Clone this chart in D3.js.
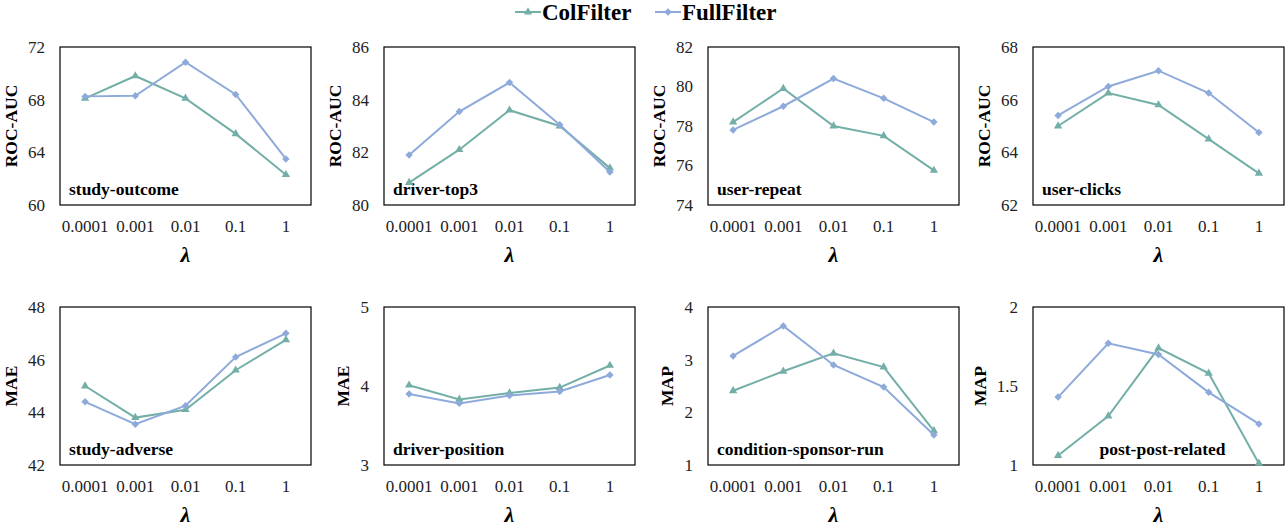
<!DOCTYPE html>
<html>
<head>
<meta charset="utf-8">
<script src="https://cdn.jsdelivr.net/npm/d3@7"></script>
<style>
  body { margin: 0; background: #fff; }
  svg text { font-family: "Liberation Serif", "Times New Roman", serif; }
</style>
</head>
<body>
<div id="container"></div>
<script>
var width = 1288;
var height = 529;

var lambdas = ["0.0001", "0.001", "0.01", "0.1", "1"];
var seriesNames = ["ColFilter", "FullFilter"];

var panelNames = ["study-outcome", "driver-top3", "user-repeat", "user-clicks",
                  "study-adverse", "driver-position", "condition-sponsor-run", "post-post-related"];
var metrics = ["ROC-AUC", "ROC-AUC", "ROC-AUC", "ROC-AUC", "MAE", "MAE", "MAP", "MAP"];
var yDomains = [[60, 72], [80, 86], [74, 82], [62, 68], [42, 48], [3, 5], [1, 4], [1, 2]];
var yTicks = [[60, 64, 68, 72], [80, 82, 84, 86], [74, 76, 78, 80, 82], [62, 64, 66, 68],
              [42, 44, 46, 48], [3, 4, 5], [1, 2, 3, 4], [1, 1.5, 2]];

var colFilter = [
  [68.1, 69.8, 68.1, 65.4, 62.3],
  [80.85, 82.1, 83.6, 83.0, 81.4],
  [78.2, 79.9, 78.0, 77.5, 75.75],
  [65.0, 66.25, 65.8, 64.5, 63.2],
  [45.0, 43.8, 44.1, 45.6, 46.75],
  [4.01, 3.83, 3.91, 3.98, 4.26],
  [2.41, 2.78, 3.12, 2.86, 1.65],
  [1.06, 1.31, 1.74, 1.58, 1.01]
];
var fullFilter = [
  [68.25, 68.3, 70.85, 68.4, 63.5],
  [81.9, 83.55, 84.65, 83.05, 81.25],
  [77.8, 79.0, 80.4, 79.4, 78.2],
  [65.4, 66.5, 67.1, 66.25, 64.75],
  [44.4, 43.55, 44.25, 46.1, 47.0],
  [3.90, 3.78, 3.88, 3.93, 4.14],
  [3.07, 3.64, 2.90, 2.48, 1.57],
  [1.43, 1.77, 1.70, 1.46, 1.26]
];

var colors = {"ColFilter": "#74afa7", "FullFilter": "#8eaadb"};
var boxW = 251, boxH = 158;
var boxLeft = [60, 384, 708, 1033];
var boxTop = [47, 307];

const SVG = d3.select("#container")
              .append("svg")
              .attr("width", width)
              .attr("height", height);

// triangle for ColFilter, square turned 45deg for FullFilter
function marker(sel, name) {
  if (name == "ColFilter") {
    sel.attr("d", d3.symbol().type(d3.symbolTriangle).size(30)());
  } else {
    sel.attr("d", d3.symbol().type(d3.symbolSquare).size(28)())
       .attr("transform", function() { return d3.select(this).attr("transform") + " rotate(45)"; });
  }
}

panelNames.forEach(function(name, i) {
  var col = i % 4, row = Math.floor(i / 4);
  var g = SVG.append("g")
             .attr("transform", `translate(${boxLeft[col]},${boxTop[row]})`);

  var x = d3.scaleBand().domain(lambdas).range([0, boxW]);
  var y = d3.scaleLinear().domain(yDomains[i]).range([boxH, 0]);

  // y tick labels
  var yAxis = g.append("g")
               .attr("transform", "translate(-15,0)")
               .call(d3.axisLeft(y).tickValues(yTicks[i]).tickSize(0).tickPadding(0).tickFormat(d3.format("")));
  yAxis.select(".domain").remove();
  yAxis.selectAll("text")
       .style("font-family", "Liberation Serif")
       .attr("font-size", "17px")
       .attr("fill", "#222");

  var maxW = 0;
  yAxis.selectAll("text").each(function() { maxW = Math.max(maxW, this.getBBox().width); });

  // x tick labels
  var xAxis = g.append("g")
               .attr("transform", `translate(0,${boxH})`)
               .call(d3.axisBottom(x).tickSize(0).tickPadding(15));
  xAxis.select(".domain").remove();
  xAxis.selectAll("text")
       .style("font-family", "Liberation Serif")
       .attr("font-size", "17px")
       .attr("fill", "#222");

  g.append("rect")
   .attr("width", boxW)
   .attr("height", boxH)
   .attr("fill", "none")
   .attr("stroke", "#000")
   .attr("stroke-width", 1.2);

  // y title
  g.append("text")
   .attr("transform", `translate(${-15 - maxW - 11},${boxH / 2}) rotate(-90)`)
   .attr("text-anchor", "middle")
   .attr("font-weight", "bold")
   .attr("font-size", "17.5px")
   .text(metrics[i]);

  // x title
  g.append("text")
   .attr("x", boxW / 2)
   .attr("y", boxH + 57)
   .attr("text-anchor", "middle")
   .attr("font-weight", "bold")
   .attr("font-style", "italic")
   .attr("font-size", "22px")
   .text("λ");

  // panel name
  var centered = name == "post-post-related";
  g.append("text")
   .attr("x", centered ? boxW / 2 + 4 : 9)
   .attr("y", boxH - 10)
   .attr("text-anchor", centered ? "middle" : "start")
   .attr("font-weight", "bold")
   .attr("font-size", "17.5px")
   .text(name);

  var line = d3.line()
               .x((d, j) => x(lambdas[j]) + x.bandwidth() / 2)
               .y(d => y(d));

  [["ColFilter", colFilter[i]], ["FullFilter", fullFilter[i]]].forEach(function(s) {
    g.append("path")
     .datum(s[1])
     .attr("d", line)
     .attr("fill", "none")
     .attr("stroke", colors[s[0]])
     .attr("stroke-width", 2);
    g.selectAll(null)
     .data(s[1])
     .enter()
     .append("path")
     .attr("transform", (d, j) => `translate(${x(lambdas[j]) + x.bandwidth() / 2},${y(d)})`)
     .call(marker, s[0])
     .attr("fill", colors[s[0]]);
  });
});

// legend
var legendX = [515, 655];
var LEGEND = SVG.append("g").attr("transform", "translate(0,12)");
seriesNames.forEach(function(n, i) {
  LEGEND.append("line")
        .attr("x1", legendX[i]).attr("x2", legendX[i] + 26)
        .attr("y1", 0).attr("y2", 0)
        .attr("stroke", colors[n])
        .attr("stroke-width", 2);
  LEGEND.append("path")
        .attr("transform", `translate(${legendX[i] + 13},0)`)
        .call(marker, n)
        .attr("fill", colors[n]);
  LEGEND.append("text")
        .attr("x", legendX[i] + 27)
        .attr("y", 8)
        .attr("font-weight", "bold")
        .attr("font-size", "23px")
        .text(n);
});
</script>
</body>
</html>
